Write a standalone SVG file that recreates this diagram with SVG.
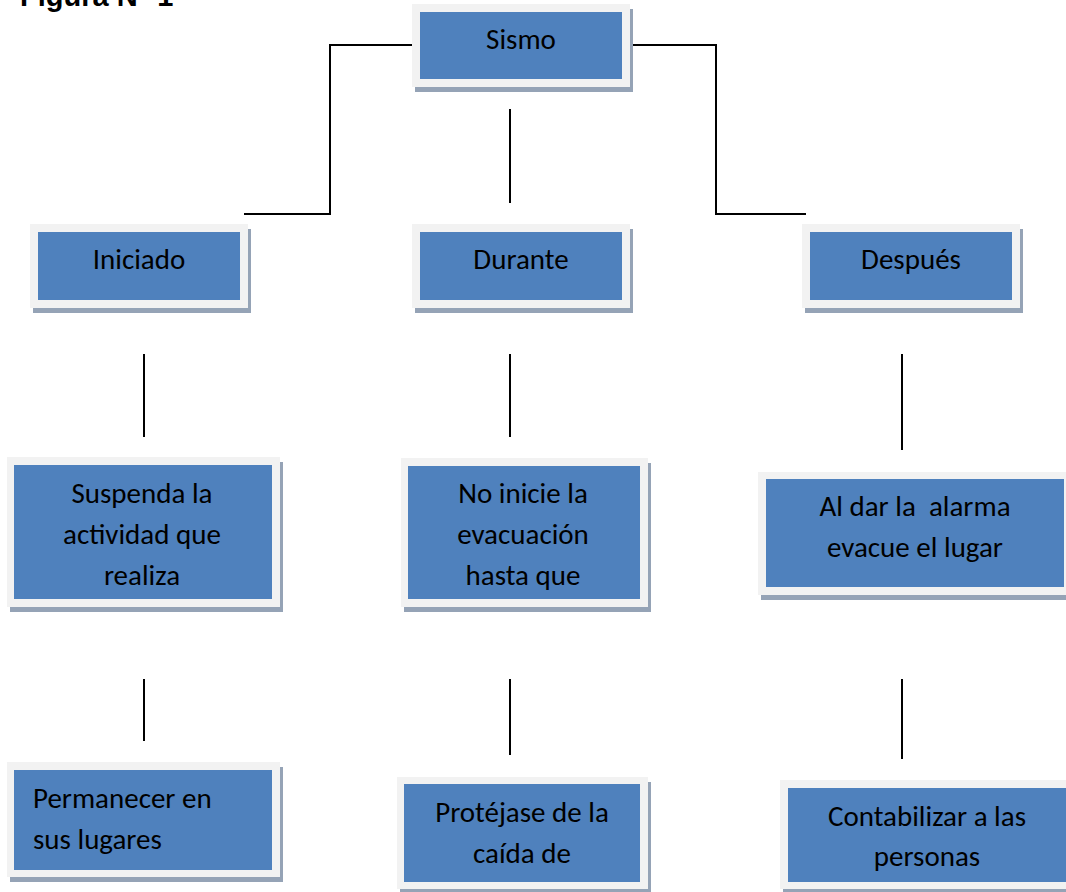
<svg xmlns="http://www.w3.org/2000/svg" width="1066" height="892" viewBox="0 0 1066 892">
<style>
.sh{fill:#95a3b6}
.fr{fill:#f2f2f2}
.bl{fill:#4f81bd}
.t{font-family:Carlito,Calibri,Lato,"Noto Sans",sans-serif;font-size:29px;fill:#000;text-anchor:middle;white-space:pre}
.tl{text-anchor:start}
.title{font-family:"Liberation Sans",Arial,sans-serif;font-weight:bold;font-size:29px;fill:#000}
.c{fill:none;stroke:#000;stroke-width:2}
</style>
<rect width="1066" height="892" fill="#fff"/>
<text class="title" x="20" y="6">Figura N° 1</text>
<g id="connectors">
<polyline class="c" points="413,45 330,45 330,214 244,214"/>
<polyline class="c" points="627,45 716,45 716,214 806,214"/>
<line class="c" x1="510" y1="109" x2="510" y2="203"/>
<line class="c" x1="144" y1="354" x2="144" y2="437"/>
<line class="c" x1="510" y1="354" x2="510" y2="437"/>
<line class="c" x1="902" y1="354" x2="902" y2="450"/>
<line class="c" x1="144" y1="679" x2="144" y2="741"/>
<line class="c" x1="510" y1="679" x2="510" y2="755"/>
<line class="c" x1="902" y1="679" x2="902" y2="759"/>
</g>
<g id="sismo">
<rect class="sh" x="415" y="9" width="218" height="83"/>
<rect class="fr" x="412" y="4" width="218" height="83"/>
<rect class="bl" x="420" y="12" width="202" height="67"/>
<text class="t" x="521" y="49">Sismo</text>
</g>
<g id="iniciado">
<rect class="sh" x="33" y="229" width="218" height="84"/>
<rect class="fr" x="30" y="224" width="218" height="84"/>
<rect class="bl" x="38" y="232" width="202" height="68"/>
<text class="t" x="139" y="269">Iniciado</text>
</g>
<g id="durante">
<rect class="sh" x="415" y="229" width="218" height="84"/>
<rect class="fr" x="412" y="224" width="218" height="84"/>
<rect class="bl" x="420" y="232" width="202" height="68"/>
<text class="t" x="521" y="269">Durante</text>
</g>
<g id="despues">
<rect class="sh" x="805" y="229" width="218" height="84"/>
<rect class="fr" x="802" y="224" width="218" height="84"/>
<rect class="bl" x="810" y="232" width="202" height="68"/>
<text class="t" x="911" y="269">Después</text>
</g>
<g id="suspenda">
<rect class="sh" x="10" y="462" width="273" height="150"/>
<rect class="fr" x="7" y="457" width="273" height="150"/>
<rect class="bl" x="14" y="465" width="258" height="134"/>
<text class="t" x="142" y="503">Suspenda la</text>
<text class="t" x="142" y="544">actividad que</text>
<text class="t" x="142" y="585">realiza</text>
</g>
<g id="noinicie">
<rect class="sh" x="404" y="463" width="247" height="149"/>
<rect class="fr" x="401" y="458" width="247" height="149"/>
<rect class="bl" x="408" y="466" width="232" height="133"/>
<text class="t" x="523" y="503">No inicie la</text>
<text class="t" x="523" y="544">evacuación</text>
<text class="t" x="523" y="585">hasta que</text>
</g>
<g id="aldar">
<rect class="sh" x="761" y="477" width="314" height="123"/>
<rect class="fr" x="758" y="472" width="314" height="123"/>
<rect class="bl" x="766" y="479" width="298" height="108"/>
<text class="t" x="915" y="516">Al dar la  alarma</text>
<text class="t" x="915" y="557">evacue el lugar</text>
</g>
<g id="permanecer">
<rect class="sh" x="10" y="767" width="273" height="115"/>
<rect class="fr" x="7" y="762" width="273" height="115"/>
<rect class="bl" x="14" y="770" width="258" height="100"/>
<text class="t tl" x="33" y="808">Permanecer en</text>
<text class="t tl" x="33" y="849">sus lugares</text>
</g>
<g id="protejase">
<rect class="sh" x="400" y="782" width="251" height="112"/>
<rect class="fr" x="397" y="777" width="251" height="112"/>
<rect class="bl" x="404" y="784" width="236" height="98"/>
<text class="t" x="522" y="822">Protéjase de la</text>
<text class="t" x="522" y="863">caída de</text>
</g>
<g id="contabilizar">
<rect class="sh" x="783" y="785" width="294" height="109"/>
<rect class="fr" x="780" y="780" width="294" height="109"/>
<rect class="bl" x="788" y="788" width="278" height="94"/>
<text class="t" x="927" y="826">Contabilizar a las</text>
<text class="t" x="927" y="866">personas</text>
</g>
</svg>
